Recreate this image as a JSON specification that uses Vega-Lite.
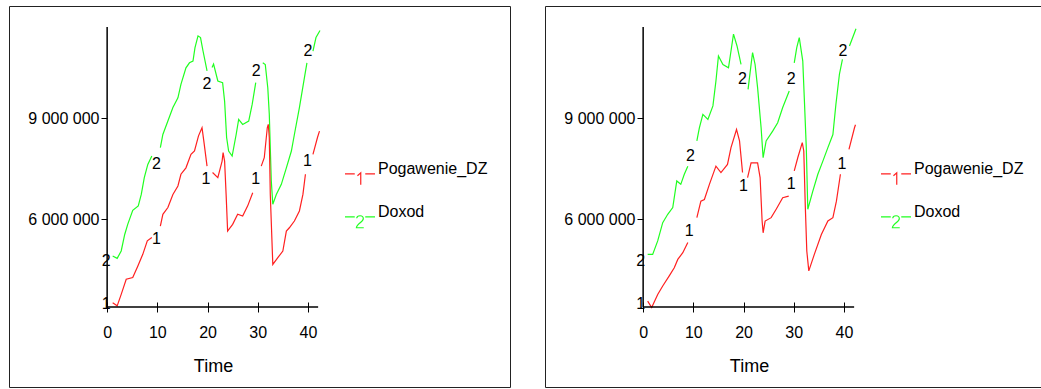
{
"$schema": "https://vega.github.io/schema/vega-lite/v6.json",
"padding": {"left": 8, "top": 5, "right": 0, "bottom": 0},
"background": "white",
"spacing": 33,
"config": {"font": "Liberation Sans", "view": {"stroke": "#222", "strokeWidth": 1}},
"datasets": {
"series": [
{"panel":"L","series":"Doxod","seg":0,"t":1.1,"v":4900000},{"panel":"L","series":"Doxod","seg":0,"t":2.0,"v":4830000},{"panel":"L","series":"Doxod","seg":0,"t":2.8,"v":5050000},{"panel":"L","series":"Doxod","seg":0,"t":3.5,"v":5540000},{"panel":"L","series":"Doxod","seg":0,"t":4.1,"v":5840000},{"panel":"L","series":"Doxod","seg":0,"t":5.1,"v":6260000},{"panel":"L","series":"Doxod","seg":0,"t":6.2,"v":6390000},{"panel":"L","series":"Doxod","seg":0,"t":6.8,"v":6730000},{"panel":"L","series":"Doxod","seg":0,"t":7.4,"v":7230000},{"panel":"L","series":"Doxod","seg":0,"t":8.1,"v":7620000},{"panel":"L","series":"Doxod","seg":0,"t":8.9,"v":7870000},
{"panel":"L","series":"Doxod","seg":1,"t":10.6,"v":8120000},{"panel":"L","series":"Doxod","seg":1,"t":11.1,"v":8510000},{"panel":"L","series":"Doxod","seg":1,"t":12.1,"v":8910000},{"panel":"L","series":"Doxod","seg":1,"t":13.1,"v":9310000},{"panel":"L","series":"Doxod","seg":1,"t":14.1,"v":9600000},{"panel":"L","series":"Doxod","seg":1,"t":14.7,"v":10000000},{"panel":"L","series":"Doxod","seg":1,"t":15.7,"v":10490000},{"panel":"L","series":"Doxod","seg":1,"t":16.4,"v":10640000},{"panel":"L","series":"Doxod","seg":1,"t":17.1,"v":10690000},{"panel":"L","series":"Doxod","seg":1,"t":17.5,"v":11090000},{"panel":"L","series":"Doxod","seg":1,"t":18.1,"v":11440000},{"panel":"L","series":"Doxod","seg":1,"t":18.6,"v":11390000},{"panel":"L","series":"Doxod","seg":1,"t":19.1,"v":10990000},{"panel":"L","series":"Doxod","seg":1,"t":19.9,"v":10400000},
{"panel":"L","series":"Doxod","seg":2,"t":20.9,"v":10500000},{"panel":"L","series":"Doxod","seg":2,"t":21.2,"v":10600000},{"panel":"L","series":"Doxod","seg":2,"t":22.05,"v":10100000},{"panel":"L","series":"Doxod","seg":2,"t":23.0,"v":10050000},{"panel":"L","series":"Doxod","seg":2,"t":23.4,"v":9500000},{"panel":"L","series":"Doxod","seg":2,"t":23.8,"v":8420000},{"panel":"L","series":"Doxod","seg":2,"t":24.2,"v":8020000},{"panel":"L","series":"Doxod","seg":2,"t":24.9,"v":7870000},{"panel":"L","series":"Doxod","seg":2,"t":25.7,"v":8510000},{"panel":"L","series":"Doxod","seg":2,"t":26.2,"v":8960000},{"panel":"L","series":"Doxod","seg":2,"t":27.0,"v":8810000},{"panel":"L","series":"Doxod","seg":2,"t":28.2,"v":8910000},{"panel":"L","series":"Doxod","seg":2,"t":28.9,"v":9410000},{"panel":"L","series":"Doxod","seg":2,"t":29.6,"v":10050000},
{"panel":"L","series":"Doxod","seg":3,"t":31.0,"v":10640000},{"panel":"L","series":"Doxod","seg":3,"t":31.5,"v":10590000},{"panel":"L","series":"Doxod","seg":3,"t":32.0,"v":9900000},{"panel":"L","series":"Doxod","seg":3,"t":32.3,"v":9110000},{"panel":"L","series":"Doxod","seg":3,"t":32.7,"v":7130000},{"panel":"L","series":"Doxod","seg":3,"t":33.0,"v":6440000},{"panel":"L","series":"Doxod","seg":3,"t":33.7,"v":6730000},{"panel":"L","series":"Doxod","seg":3,"t":34.7,"v":7030000},{"panel":"L","series":"Doxod","seg":3,"t":35.7,"v":7520000},{"panel":"L","series":"Doxod","seg":3,"t":36.7,"v":8020000},{"panel":"L","series":"Doxod","seg":3,"t":37.3,"v":8510000},{"panel":"L","series":"Doxod","seg":3,"t":38.3,"v":9310000},{"panel":"L","series":"Doxod","seg":3,"t":39.3,"v":10200000},{"panel":"L","series":"Doxod","seg":3,"t":39.8,"v":10640000},
{"panel":"L","series":"Doxod","seg":4,"t":41.0,"v":10990000},{"panel":"L","series":"Doxod","seg":4,"t":41.6,"v":11390000},{"panel":"L","series":"Doxod","seg":4,"t":42.4,"v":11600000},
{"panel":"L","series":"Pogawenie_DZ","seg":0,"t":1.1,"v":3510000},{"panel":"L","series":"Pogawenie_DZ","seg":0,"t":2.0,"v":3420000},{"panel":"L","series":"Pogawenie_DZ","seg":0,"t":2.8,"v":3760000},{"panel":"L","series":"Pogawenie_DZ","seg":0,"t":3.8,"v":4210000},{"panel":"L","series":"Pogawenie_DZ","seg":0,"t":5.1,"v":4260000},{"panel":"L","series":"Pogawenie_DZ","seg":0,"t":6.1,"v":4600000},{"panel":"L","series":"Pogawenie_DZ","seg":0,"t":7.1,"v":4950000},{"panel":"L","series":"Pogawenie_DZ","seg":0,"t":8.0,"v":5350000},{"panel":"L","series":"Pogawenie_DZ","seg":0,"t":8.9,"v":5450000},
{"panel":"L","series":"Pogawenie_DZ","seg":1,"t":10.6,"v":5790000},{"panel":"L","series":"Pogawenie_DZ","seg":1,"t":11.1,"v":6140000},{"panel":"L","series":"Pogawenie_DZ","seg":1,"t":12.1,"v":6340000},{"panel":"L","series":"Pogawenie_DZ","seg":1,"t":13.1,"v":6730000},{"panel":"L","series":"Pogawenie_DZ","seg":1,"t":14.1,"v":6980000},{"panel":"L","series":"Pogawenie_DZ","seg":1,"t":14.7,"v":7330000},{"panel":"L","series":"Pogawenie_DZ","seg":1,"t":15.7,"v":7520000},{"panel":"L","series":"Pogawenie_DZ","seg":1,"t":16.7,"v":7920000},{"panel":"L","series":"Pogawenie_DZ","seg":1,"t":17.4,"v":8020000},{"panel":"L","series":"Pogawenie_DZ","seg":1,"t":18.2,"v":8470000},{"panel":"L","series":"Pogawenie_DZ","seg":1,"t":18.9,"v":8710000},{"panel":"L","series":"Pogawenie_DZ","seg":1,"t":19.3,"v":8270000},{"panel":"L","series":"Pogawenie_DZ","seg":1,"t":19.9,"v":7570000},
{"panel":"L","series":"Pogawenie_DZ","seg":2,"t":21.0,"v":7380000},{"panel":"L","series":"Pogawenie_DZ","seg":2,"t":22.05,"v":7230000},{"panel":"L","series":"Pogawenie_DZ","seg":2,"t":22.9,"v":7720000},{"panel":"L","series":"Pogawenie_DZ","seg":2,"t":23.1,"v":7970000},{"panel":"L","series":"Pogawenie_DZ","seg":2,"t":23.4,"v":7720000},{"panel":"L","series":"Pogawenie_DZ","seg":2,"t":23.7,"v":6730000},{"panel":"L","series":"Pogawenie_DZ","seg":2,"t":24.0,"v":5640000},{"panel":"L","series":"Pogawenie_DZ","seg":2,"t":25.0,"v":5840000},{"panel":"L","series":"Pogawenie_DZ","seg":2,"t":26.0,"v":6140000},{"panel":"L","series":"Pogawenie_DZ","seg":2,"t":27.0,"v":6090000},{"panel":"L","series":"Pogawenie_DZ","seg":2,"t":28.0,"v":6390000},{"panel":"L","series":"Pogawenie_DZ","seg":2,"t":29.0,"v":6780000},
{"panel":"L","series":"Pogawenie_DZ","seg":3,"t":30.7,"v":7570000},{"panel":"L","series":"Pogawenie_DZ","seg":3,"t":31.3,"v":7820000},{"panel":"L","series":"Pogawenie_DZ","seg":3,"t":31.9,"v":8710000},{"panel":"L","series":"Pogawenie_DZ","seg":3,"t":32.1,"v":8810000},{"panel":"L","series":"Pogawenie_DZ","seg":3,"t":32.3,"v":8420000},{"panel":"L","series":"Pogawenie_DZ","seg":3,"t":32.5,"v":6730000},{"panel":"L","series":"Pogawenie_DZ","seg":3,"t":33.0,"v":4650000},{"panel":"L","series":"Pogawenie_DZ","seg":3,"t":34.0,"v":4850000},{"panel":"L","series":"Pogawenie_DZ","seg":3,"t":35.0,"v":5050000},{"panel":"L","series":"Pogawenie_DZ","seg":3,"t":35.7,"v":5640000},{"panel":"L","series":"Pogawenie_DZ","seg":3,"t":36.3,"v":5740000},{"panel":"L","series":"Pogawenie_DZ","seg":3,"t":37.3,"v":5940000},{"panel":"L","series":"Pogawenie_DZ","seg":3,"t":38.3,"v":6240000},{"panel":"L","series":"Pogawenie_DZ","seg":3,"t":39.0,"v":6730000},{"panel":"L","series":"Pogawenie_DZ","seg":3,"t":39.5,"v":7330000},
{"panel":"L","series":"Pogawenie_DZ","seg":4,"t":41.0,"v":7920000},{"panel":"L","series":"Pogawenie_DZ","seg":4,"t":41.9,"v":8420000},{"panel":"L","series":"Pogawenie_DZ","seg":4,"t":42.3,"v":8610000},
{"panel":"R","series":"Doxod","seg":0,"t":0.9,"v":4950000},{"panel":"R","series":"Doxod","seg":0,"t":1.9,"v":4950000},{"panel":"R","series":"Doxod","seg":0,"t":2.9,"v":5350000},{"panel":"R","series":"Doxod","seg":0,"t":3.9,"v":5890000},{"panel":"R","series":"Doxod","seg":0,"t":4.9,"v":6140000},{"panel":"R","series":"Doxod","seg":0,"t":5.9,"v":6340000},{"panel":"R","series":"Doxod","seg":0,"t":6.7,"v":7130000},{"panel":"R","series":"Doxod","seg":0,"t":7.5,"v":7030000},{"panel":"R","series":"Doxod","seg":0,"t":8.2,"v":7330000},{"panel":"R","series":"Doxod","seg":0,"t":8.9,"v":7570000},
{"panel":"R","series":"Doxod","seg":1,"t":10.7,"v":8320000},{"panel":"R","series":"Doxod","seg":1,"t":11.2,"v":8710000},{"panel":"R","series":"Doxod","seg":1,"t":11.9,"v":9110000},{"panel":"R","series":"Doxod","seg":1,"t":12.9,"v":8960000},{"panel":"R","series":"Doxod","seg":1,"t":13.9,"v":9360000},{"panel":"R","series":"Doxod","seg":1,"t":14.5,"v":10100000},{"panel":"R","series":"Doxod","seg":1,"t":15.0,"v":10840000},{"panel":"R","series":"Doxod","seg":1,"t":15.9,"v":10590000},{"panel":"R","series":"Doxod","seg":1,"t":17.0,"v":10490000},{"panel":"R","series":"Doxod","seg":1,"t":17.5,"v":10990000},{"panel":"R","series":"Doxod","seg":1,"t":18.0,"v":11490000},{"panel":"R","series":"Doxod","seg":1,"t":18.7,"v":11140000},{"panel":"R","series":"Doxod","seg":1,"t":19.5,"v":10590000},
{"panel":"R","series":"Doxod","seg":2,"t":20.9,"v":9850000},{"panel":"R","series":"Doxod","seg":2,"t":21.5,"v":10590000},{"panel":"R","series":"Doxod","seg":2,"t":21.8,"v":10940000},{"panel":"R","series":"Doxod","seg":2,"t":22.3,"v":10590000},{"panel":"R","series":"Doxod","seg":2,"t":22.8,"v":9900000},{"panel":"R","series":"Doxod","seg":2,"t":23.5,"v":8710000},{"panel":"R","series":"Doxod","seg":2,"t":23.9,"v":7820000},{"panel":"R","series":"Doxod","seg":2,"t":24.5,"v":8320000},{"panel":"R","series":"Doxod","seg":2,"t":25.8,"v":8610000},{"panel":"R","series":"Doxod","seg":2,"t":26.8,"v":8860000},{"panel":"R","series":"Doxod","seg":2,"t":27.8,"v":9310000},{"panel":"R","series":"Doxod","seg":2,"t":29.1,"v":9800000},
{"panel":"R","series":"Doxod","seg":3,"t":30.1,"v":10640000},{"panel":"R","series":"Doxod","seg":3,"t":30.6,"v":11090000},{"panel":"R","series":"Doxod","seg":3,"t":31.1,"v":11390000},{"panel":"R","series":"Doxod","seg":3,"t":31.8,"v":10690000},{"panel":"R","series":"Doxod","seg":3,"t":32.1,"v":9600000},{"panel":"R","series":"Doxod","seg":3,"t":32.5,"v":8120000},{"panel":"R","series":"Doxod","seg":3,"t":32.8,"v":6290000},{"panel":"R","series":"Doxod","seg":3,"t":33.8,"v":6830000},{"panel":"R","series":"Doxod","seg":3,"t":34.8,"v":7330000},{"panel":"R","series":"Doxod","seg":3,"t":35.8,"v":7720000},{"panel":"R","series":"Doxod","seg":3,"t":36.8,"v":8120000},{"panel":"R","series":"Doxod","seg":3,"t":37.8,"v":8510000},{"panel":"R","series":"Doxod","seg":3,"t":38.4,"v":9410000},{"panel":"R","series":"Doxod","seg":3,"t":39.1,"v":10300000},{"panel":"R","series":"Doxod","seg":3,"t":39.7,"v":10740000},
{"panel":"R","series":"Doxod","seg":4,"t":41.1,"v":11140000},{"panel":"R","series":"Doxod","seg":4,"t":42.1,"v":11530000},{"panel":"R","series":"Doxod","seg":4,"t":42.4,"v":11650000},
{"panel":"R","series":"Pogawenie_DZ","seg":0,"t":0.9,"v":3560000},{"panel":"R","series":"Pogawenie_DZ","seg":0,"t":1.7,"v":3370000},{"panel":"R","series":"Pogawenie_DZ","seg":0,"t":2.9,"v":3760000},{"panel":"R","series":"Pogawenie_DZ","seg":0,"t":3.9,"v":4010000},{"panel":"R","series":"Pogawenie_DZ","seg":0,"t":5.2,"v":4310000},{"panel":"R","series":"Pogawenie_DZ","seg":0,"t":6.2,"v":4550000},{"panel":"R","series":"Pogawenie_DZ","seg":0,"t":6.9,"v":4800000},{"panel":"R","series":"Pogawenie_DZ","seg":0,"t":7.9,"v":5000000},{"panel":"R","series":"Pogawenie_DZ","seg":0,"t":8.9,"v":5300000},
{"panel":"R","series":"Pogawenie_DZ","seg":1,"t":10.7,"v":6040000},{"panel":"R","series":"Pogawenie_DZ","seg":1,"t":11.5,"v":6530000},{"panel":"R","series":"Pogawenie_DZ","seg":1,"t":12.2,"v":6580000},{"panel":"R","series":"Pogawenie_DZ","seg":1,"t":13.2,"v":7030000},{"panel":"R","series":"Pogawenie_DZ","seg":1,"t":14.5,"v":7570000},{"panel":"R","series":"Pogawenie_DZ","seg":1,"t":15.5,"v":7380000},{"panel":"R","series":"Pogawenie_DZ","seg":1,"t":16.8,"v":7620000},{"panel":"R","series":"Pogawenie_DZ","seg":1,"t":17.5,"v":8120000},{"panel":"R","series":"Pogawenie_DZ","seg":1,"t":18.6,"v":8660000},{"panel":"R","series":"Pogawenie_DZ","seg":1,"t":19.2,"v":8320000},{"panel":"R","series":"Pogawenie_DZ","seg":1,"t":19.8,"v":7380000},
{"panel":"R","series":"Pogawenie_DZ","seg":2,"t":20.8,"v":7230000},{"panel":"R","series":"Pogawenie_DZ","seg":2,"t":21.5,"v":7670000},{"panel":"R","series":"Pogawenie_DZ","seg":2,"t":22.8,"v":7670000},{"panel":"R","series":"Pogawenie_DZ","seg":2,"t":23.3,"v":7230000},{"panel":"R","series":"Pogawenie_DZ","seg":2,"t":23.7,"v":5940000},{"panel":"R","series":"Pogawenie_DZ","seg":2,"t":23.9,"v":5590000},{"panel":"R","series":"Pogawenie_DZ","seg":2,"t":24.3,"v":5940000},{"panel":"R","series":"Pogawenie_DZ","seg":2,"t":25.5,"v":6040000},{"panel":"R","series":"Pogawenie_DZ","seg":2,"t":26.5,"v":6290000},{"panel":"R","series":"Pogawenie_DZ","seg":2,"t":27.8,"v":6630000},{"panel":"R","series":"Pogawenie_DZ","seg":2,"t":29.0,"v":6680000},
{"panel":"R","series":"Pogawenie_DZ","seg":3,"t":30.1,"v":7430000},{"panel":"R","series":"Pogawenie_DZ","seg":3,"t":30.8,"v":7820000},{"panel":"R","series":"Pogawenie_DZ","seg":3,"t":31.7,"v":8270000},{"panel":"R","series":"Pogawenie_DZ","seg":3,"t":32.0,"v":8020000},{"panel":"R","series":"Pogawenie_DZ","seg":3,"t":32.3,"v":6390000},{"panel":"R","series":"Pogawenie_DZ","seg":3,"t":32.6,"v":5050000},{"panel":"R","series":"Pogawenie_DZ","seg":3,"t":33.0,"v":4460000},{"panel":"R","series":"Pogawenie_DZ","seg":3,"t":34.1,"v":4950000},{"panel":"R","series":"Pogawenie_DZ","seg":3,"t":35.5,"v":5540000},{"panel":"R","series":"Pogawenie_DZ","seg":3,"t":36.8,"v":5940000},{"panel":"R","series":"Pogawenie_DZ","seg":3,"t":37.8,"v":6040000},{"panel":"R","series":"Pogawenie_DZ","seg":3,"t":38.5,"v":6530000},{"panel":"R","series":"Pogawenie_DZ","seg":3,"t":39.3,"v":7330000},
{"panel":"R","series":"Pogawenie_DZ","seg":4,"t":41.0,"v":8070000},{"panel":"R","series":"Pogawenie_DZ","seg":4,"t":42.1,"v":8710000},{"panel":"R","series":"Pogawenie_DZ","seg":4,"t":42.3,"v":8800000}
],
"labels": [
{"panel":"L","t":-0.2,"v":4750000,"lab":"2"},{"panel":"L","t":9.8,"v":7620000,"lab":"2"},{"panel":"L","t":19.9,"v":10000000,"lab":"2"},{"panel":"L","t":29.7,"v":10400000,"lab":"2"},{"panel":"L","t":40.0,"v":10990000,"lab":"2"},
{"panel":"L","t":-0.2,"v":3475000,"lab":"1"},{"panel":"L","t":9.8,"v":5400000,"lab":"1"},{"panel":"L","t":19.7,"v":7180000,"lab":"1"},{"panel":"L","t":29.6,"v":7180000,"lab":"1"},{"panel":"L","t":39.9,"v":7720000,"lab":"1"},
{"panel":"R","t":-0.5,"v":4750000,"lab":"2"},{"panel":"R","t":9.4,"v":7870000,"lab":"2"},{"panel":"R","t":19.8,"v":10150000,"lab":"2"},{"panel":"R","t":29.5,"v":10150000,"lab":"2"},{"panel":"R","t":39.8,"v":10990000,"lab":"2"},
{"panel":"R","t":-0.5,"v":3470000,"lab":"1"},{"panel":"R","t":9.2,"v":5640000,"lab":"1"},{"panel":"R","t":20.0,"v":6980000,"lab":"1"},{"panel":"R","t":29.5,"v":7030000,"lab":"1"},{"panel":"R","t":39.6,"v":7620000,"lab":"1"}
]
},
"resolve": {"legend": {"color": "independent"}},
"hconcat": [
{
"width": 501, "height": 381,
"layer": [
{"data": {"name": "series"}, "transform": [{"filter": "datum.panel == 'L'"}],
 "mark": {"type": "line", "strokeWidth": 1.2},
 "encoding": {
  "x": {"field": "t", "type": "quantitative", "scale": {"domain": [-19.55, 80.25], "nice": false, "zero": false},
        "axis": {"orient": "bottom", "offset": -85, "values": [0,10,20,30,40], "domain": false, "grid": false, "tickSize": 10, "tickColor": "black", "labelPadding": 12, "labelFontSize": 16, "labelColor": "black", "labelFlush": false, "title": "Time", "titleFontSize": 18, "titleFontWeight": "normal", "titleColor": "black", "titleX": 204, "titleY": 64, "titleBaseline": "middle", "titleAlign": "center", "titleAnchor": null}},
  "y": {"field": "v", "type": "quantitative", "scale": {"domain": [1010000, 12327000], "nice": false, "zero": false},
        "axis": {"orient": "left", "offset": -98, "values": [6000000, 9000000], "domain": false, "grid": false, "tickSize": 6, "tickColor": "black", "labelPadding": 2, "labelFontSize": 16, "labelColor": "black", "labelExpr": "datum.value == 6000000 ? '6 000 000' : '9 000 000'", "title": null}},
  "color": {"field": "series", "type": "nominal", "scale": {"domain": ["Pogawenie_DZ", "Doxod"], "range": ["#ff2020", "#20ff20"]},
        "legend": {"orient": "none", "legendX": 335, "legendY": 147, "title": null, "padding": 0, "symbolSize": 900, "symbolStrokeWidth": 1.2, "labelOffset": 2, "rowPadding": 8, "labelFontSize": 16, "labelColor": "black",
          "encode": {"symbols": {"update": {"shape": {"signal": "datum.value == 'Doxod' ? 'M-1,0.33L-0.35,0.33M0.35,0.33L1,0.33M-0.22,0.42C-0.2,0.2,0.22,0.18,0.22,0.45C0.22,0.65,-0.22,0.8,-0.24,1.05L0.25,1.05' : 'M-1,0.33L-0.35,0.33M0.35,0.33L1,0.33M-0.17,0.45L0.05,0.25L0.05,1.05'"}, "fill": {"value": "transparent"}}}}}},
  "detail": {"field": "seg", "type": "nominal"}
 }},
{"data": {"name": "labels"}, "transform": [{"filter": "datum.panel == 'L'"}],
 "mark": {"type": "text", "fontSize": 16, "color": "black", "align": "center", "baseline": "middle"},
 "encoding": {"x": {"field": "t", "type": "quantitative"}, "y": {"field": "v", "type": "quantitative"}, "text": {"field": "lab"}}},
{"data": {"values": [{}]}, "mark": {"type": "rule", "color": "black", "strokeWidth": 1.5},
 "encoding": {"x": {"datum": 0}, "y": {"datum": 3386000}, "y2": {"datum": 11700000}}},
{"data": {"values": [{}]}, "mark": {"type": "rule", "color": "black", "strokeWidth": 1.5},
 "encoding": {"x": {"datum": 0}, "x2": {"datum": 42.03}, "y": {"datum": 3386000}}}
]
},
{
"width": 501, "height": 381,
"layer": [
{"data": {"name": "series"}, "transform": [{"filter": "datum.panel == 'R'"}],
 "mark": {"type": "line", "strokeWidth": 1.2},
 "encoding": {
  "x": {"field": "t", "type": "quantitative", "scale": {"domain": [-19.55, 80.25], "nice": false, "zero": false},
        "axis": {"orient": "bottom", "offset": -85, "values": [0,10,20,30,40], "domain": false, "grid": false, "tickSize": 10, "tickColor": "black", "labelPadding": 12, "labelFontSize": 16, "labelColor": "black", "labelFlush": false, "title": "Time", "titleFontSize": 18, "titleFontWeight": "normal", "titleColor": "black", "titleX": 204, "titleY": 64, "titleBaseline": "middle", "titleAlign": "center", "titleAnchor": null}},
  "y": {"field": "v", "type": "quantitative", "scale": {"domain": [1010000, 12327000], "nice": false, "zero": false},
        "axis": {"orient": "left", "offset": -98, "values": [6000000, 9000000], "domain": false, "grid": false, "tickSize": 6, "tickColor": "black", "labelPadding": 2, "labelFontSize": 16, "labelColor": "black", "labelExpr": "datum.value == 6000000 ? '6 000 000' : '9 000 000'", "title": null}},
  "color": {"field": "series", "type": "nominal", "scale": {"domain": ["Pogawenie_DZ", "Doxod"], "range": ["#ff2020", "#20ff20"]},
        "legend": {"orient": "none", "legendX": 335, "legendY": 147, "title": null, "padding": 0, "symbolSize": 900, "symbolStrokeWidth": 1.2, "labelOffset": 2, "rowPadding": 8, "labelFontSize": 16, "labelColor": "black",
          "encode": {"symbols": {"update": {"shape": {"signal": "datum.value == 'Doxod' ? 'M-1,0.33L-0.35,0.33M0.35,0.33L1,0.33M-0.22,0.42C-0.2,0.2,0.22,0.18,0.22,0.45C0.22,0.65,-0.22,0.8,-0.24,1.05L0.25,1.05' : 'M-1,0.33L-0.35,0.33M0.35,0.33L1,0.33M-0.17,0.45L0.05,0.25L0.05,1.05'"}, "fill": {"value": "transparent"}}}}}},
  "detail": {"field": "seg", "type": "nominal"}
 }},
{"data": {"name": "labels"}, "transform": [{"filter": "datum.panel == 'R'"}],
 "mark": {"type": "text", "fontSize": 16, "color": "black", "align": "center", "baseline": "middle"},
 "encoding": {"x": {"field": "t", "type": "quantitative"}, "y": {"field": "v", "type": "quantitative"}, "text": {"field": "lab"}}},
{"data": {"values": [{}]}, "mark": {"type": "rule", "color": "black", "strokeWidth": 1.5},
 "encoding": {"x": {"datum": 0}, "y": {"datum": 3386000}, "y2": {"datum": 11700000}}},
{"data": {"values": [{}]}, "mark": {"type": "rule", "color": "black", "strokeWidth": 1.5},
 "encoding": {"x": {"datum": 0}, "x2": {"datum": 42.03}, "y": {"datum": 3386000}}}
]
}
]
}
